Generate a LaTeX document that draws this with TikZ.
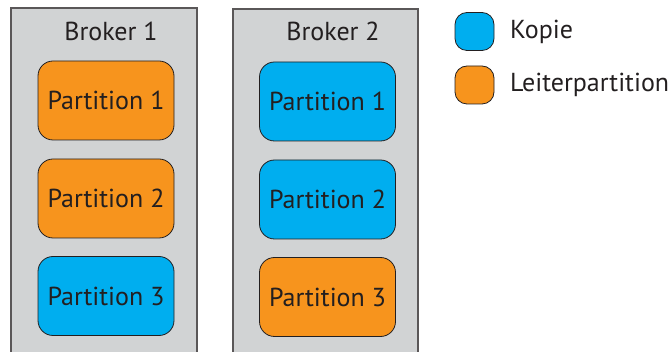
\documentclass[tikz,border=0pt]{standalone}
\usepackage{fontspec}
\setmainfont{PT Sans}
\definecolor{lead}{HTML}{F7941D}
\definecolor{replica}{HTML}{00AEEF}
\definecolor{rack}{HTML}{D1D3D4}
\definecolor{ink}{HTML}{231F20}
\begin{document}
\begin{tikzpicture}[x=1pt,y=-1pt,
  font=\fontsize{26}{30}\selectfont, text=ink,
  broker/.style={draw=ink!75, line width=1.3pt, fill=rack, minimum width=186pt, minimum height=352pt, inner sep=0pt},
  part/.style={draw=ink, line width=0.8pt, rounded corners=15pt, minimum width=136pt, minimum height=79pt, inner sep=0pt},
  key/.style={draw=ink, line width=0.8pt, rounded corners=12pt, minimum width=39pt, minimum height=38pt, inner sep=0pt}]
\clip (0,0) rectangle (672,352);

\node[broker] (b1) at (104,184) {};
\node[anchor=base] (b1label) at (111,41) {Broker 1};
\node[part, fill=lead] (b1p1) at (106,100.5) {Partition 1};
\node[part, fill=lead] (b1p2) at (106,198.5) {Partition 2};
\node[part, fill=replica] (b1p3) at (106,296) {Partition 3};

\node[broker, minimum width=185pt] (b2) at (325.5,185) {};
\node[anchor=base] (b2label) at (333,41) {Broker 2};
\node[part, fill=replica] (b2p1) at (327.5,101.5) {Partition 1};
\node[part, fill=replica] (b2p2) at (327.5,199.5) {Partition 2};
\node[part, fill=lead] (b2p3) at (327.5,297) {Partition 3};

% legend
\node[key, fill=replica] (kreplica) at (474.5,31.5) {};
\node[anchor=base west, inner sep=0pt] (treplica) at (510,38.5) {Kopie};
\node[key, fill=lead] (klead) at (474.5,85) {};
\node[anchor=base west, inner sep=0pt] (tlead) at (510,92) {Leiterpartition};
\end{tikzpicture}
\end{document}
